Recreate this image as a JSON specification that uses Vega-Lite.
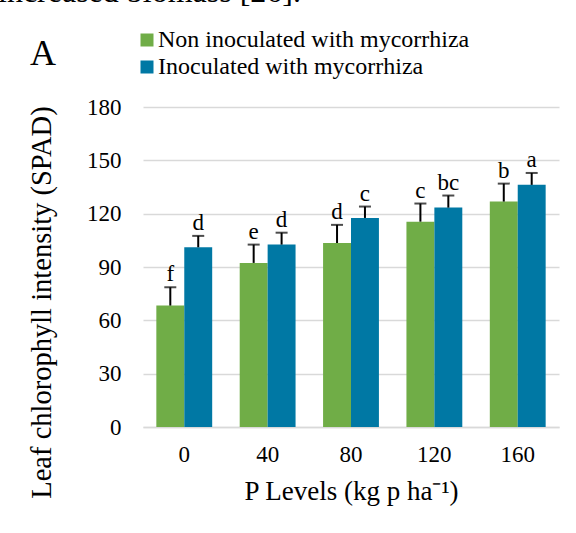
{
  "$schema": "https://vega.github.io/schema/vega-lite/v6.json",
  "width": 416,
  "height": 320,
  "autosize": {"type": "none"},
  "padding": {"left": 143, "top": 107, "right": 17, "bottom": 106},
  "background": "white",
  "title": {
    "text": "increased biomass [26].",
    "anchor": "start",
    "frame": "group",
    "font": "Liberation Serif",
    "fontSize": 32,
    "fontWeight": "normal",
    "color": "black",
    "baseline": "alphabetic",
    "dx": -145,
    "dy": 6,
    "offset": 0
  },
  "config": {
    "font": "Liberation Serif",
    "view": {"stroke": null},
    "text": {"font": "Liberation Serif"},
    "axis": {"labelFont": "Liberation Serif", "titleFont": "Liberation Serif"},
    "legend": {"labelFont": "Liberation Serif", "titleFont": "Liberation Serif"},
    "style": {
      "guide-label": {"font": "Liberation Serif"},
      "guide-title": {"font": "Liberation Serif"},
      "group-title": {"font": "Liberation Serif"}
    }
  },
  "data": {
    "values": [
      {"P": "0", "treatment": "Non inoculated with mycorrhiza", "value": 68.3, "upper": 78.6, "letter": "f"},
      {"P": "0", "treatment": "Inoculated with mycorrhiza", "value": 101.1, "upper": 107.5, "letter": "d"},
      {"P": "40", "treatment": "Non inoculated with mycorrhiza", "value": 92.3, "upper": 102.6, "letter": "e"},
      {"P": "40", "treatment": "Inoculated with mycorrhiza", "value": 102.6, "upper": 109.3, "letter": "d"},
      {"P": "80", "treatment": "Non inoculated with mycorrhiza", "value": 103.5, "upper": 113.7, "letter": "d"},
      {"P": "80", "treatment": "Inoculated with mycorrhiza", "value": 117.6, "upper": 124.0, "letter": "c"},
      {"P": "120", "treatment": "Non inoculated with mycorrhiza", "value": 115.5, "upper": 125.7, "letter": "c"},
      {"P": "120", "treatment": "Inoculated with mycorrhiza", "value": 123.4, "upper": 130.2, "letter": "bc"},
      {"P": "160", "treatment": "Non inoculated with mycorrhiza", "value": 126.8, "upper": 136.9, "letter": "b"},
      {"P": "160", "treatment": "Inoculated with mycorrhiza", "value": 136.2, "upper": 142.9, "letter": "a"}
    ]
  },
  "encoding": {
    "x": {
      "field": "P",
      "type": "nominal",
      "sort": ["0", "40", "80", "120", "160"],
      "scale": {"paddingInner": 0.33, "paddingOuter": 0.16},
      "axis": {
        "title": "P Levels (kg p ha⁻¹)",
        "labelAngle": 0,
        "labelFont": "Liberation Serif",
        "labelFontSize": 23,
        "labelColor": "black",
        "labelPadding": 16,
        "ticks": false,
        "domain": true,
        "domainColor": "#d9d9d9",
        "domainWidth": 1.5,
        "titleFont": "Liberation Serif",
        "titleFontSize": 27,
        "titleFontWeight": "normal",
        "titleColor": "black",
        "titlePadding": 12
      }
    },
    "xOffset": {
      "field": "treatment",
      "type": "nominal",
      "scale": {"domain": ["Non inoculated with mycorrhiza", "Inoculated with mycorrhiza"], "paddingInner": 0, "paddingOuter": 0}
    }
  },
  "layer": [
    {
      "mark": {"type": "bar"},
      "encoding": {
        "y": {
          "field": "value",
          "type": "quantitative",
          "scale": {"domain": [0, 180]},
          "axis": {
            "values": [0, 30, 60, 90, 120, 150, 180],
            "title": "Leaf chlorophyll intensity (SPAD)",
            "domain": false,
            "ticks": false,
            "grid": true,
            "gridColor": "#d9d9d9",
            "gridWidth": 1.3,
            "labelFont": "Liberation Serif",
            "labelFontSize": 23,
            "labelColor": "black",
            "labelPadding": 22,
            "titleFont": "Liberation Serif",
            "titleFontSize": 28.5,
            "titleFontWeight": "normal",
            "titleColor": "black",
            "titlePadding": 30,
            "titleY": 195
          }
        },
        "color": {
          "field": "treatment",
          "type": "nominal",
          "scale": {
            "domain": ["Non inoculated with mycorrhiza", "Inoculated with mycorrhiza"],
            "range": ["#70ad47", "#0078a4"]
          },
          "legend": {
            "orient": "none",
            "legendX": -113,
            "legendY": -79,
            "title": "A",
            "titleOrient": "left",
            "titleFont": "Liberation Serif",
            "titleFontSize": 36,
            "titleFontWeight": "normal",
            "titleColor": "black",
            "titlePadding": 79,
            "padding": 0,
            "symbolType": "square",
            "symbolSize": 169,
            "symbolStrokeWidth": 0,
            "labelFont": "Liberation Serif",
            "labelFontSize": 24,
            "labelColor": "black",
            "labelOffset": -1,
            "labelLimit": 0,
            "rowPadding": 3
          }
        }
      }
    },
    {
      "mark": {"type": "rule", "color": "black", "strokeWidth": 2},
      "encoding": {
        "y": {"field": "value", "type": "quantitative"},
        "y2": {"field": "upper"}
      }
    },
    {
      "mark": {"type": "tick", "orient": "horizontal", "color": "black", "size": 12, "thickness": 2},
      "encoding": {
        "y": {"field": "upper", "type": "quantitative"}
      }
    },
    {
      "mark": {"type": "text", "baseline": "alphabetic", "dy": -6, "fontSize": 23, "color": "black", "font": "Liberation Serif"},
      "encoding": {
        "y": {"field": "upper", "type": "quantitative"},
        "text": {"field": "letter"}
      }
    }
  ]
}
